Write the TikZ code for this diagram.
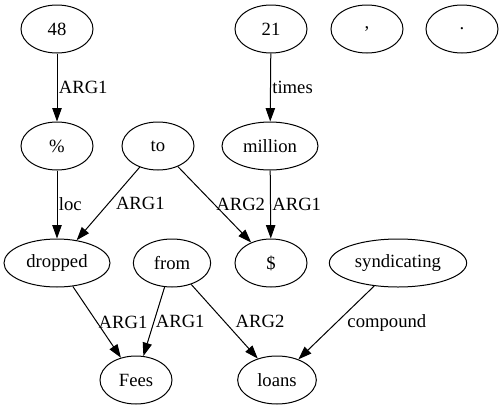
\documentclass[tikz,border=0pt]{standalone}
\usepackage{fontspec}
\setmainfont{Liberation Serif}
\usetikzlibrary{arrows.meta,shapes.geometric}

\begin{document}
\begin{tikzpicture}[x=0.75pt,y=-0.75pt,line width=0.75pt,
    word/.style={draw,ellipse,minimum width=54pt,minimum height=36pt,inner sep=0pt,font=\fontsize{14}{16}\selectfont},
    rel/.style={midway,anchor=west,inner sep=1pt,font=\fontsize{14}{16}\selectfont},
    >={Triangle[length=10pt,width=7pt]}]
\useasboundingbox (0,0) rectangle (504,411);
% top row
\node[word] (w48) at (57,29) {48};
\node[word] (w21) at (271,29) {21};
\node[word] (comma) at (367,29) {,};
\node[word] (stop) at (462,29) {.};
% second row
\node[word] (pct) at (57,146) {\%};
\node[word] (to) at (158,146) {to};
\node[word,minimum width=72pt] (million) at (270,146) {million};
% third row
\node[word,minimum width=79.5pt] (dropped) at (57,263) {dropped};
\node[word,minimum width=58pt] (from) at (172,263) {from};
\node[word] (dollar) at (271,263) {\$};
\node[word,minimum width=103pt] (syndicating) at (398,263) {syndicating};
% bottom row
\node[word] (fees) at (136,380) {Fees};
\node[word,minimum width=59pt] (loans) at (277,380) {loans};

\path[->] (w48) edge node[rel] {ARG1} (pct);
\path[->] (w21) edge node[rel] {times} (million);
\path[->] (pct) edge node[rel] {loc} (dropped);
\path[->] (to) edge node[rel,xshift=4.5pt] {ARG1} (dropped);
\path[->] (to) edge node[rel] {ARG2} (dollar);
\path[->] (million) edge node[rel] {ARG1} (dollar);
\path[->] (dropped) edge node[rel] {ARG1} (fees);
\path[->] (from) edge node[rel] {ARG1} (fees);
\path[->] (from) edge node[rel,xshift=7pt] {ARG2} (loans);
\path[->] (syndicating) edge node[rel,xshift=7pt] {compound} (loans);
\end{tikzpicture}
\end{document}
